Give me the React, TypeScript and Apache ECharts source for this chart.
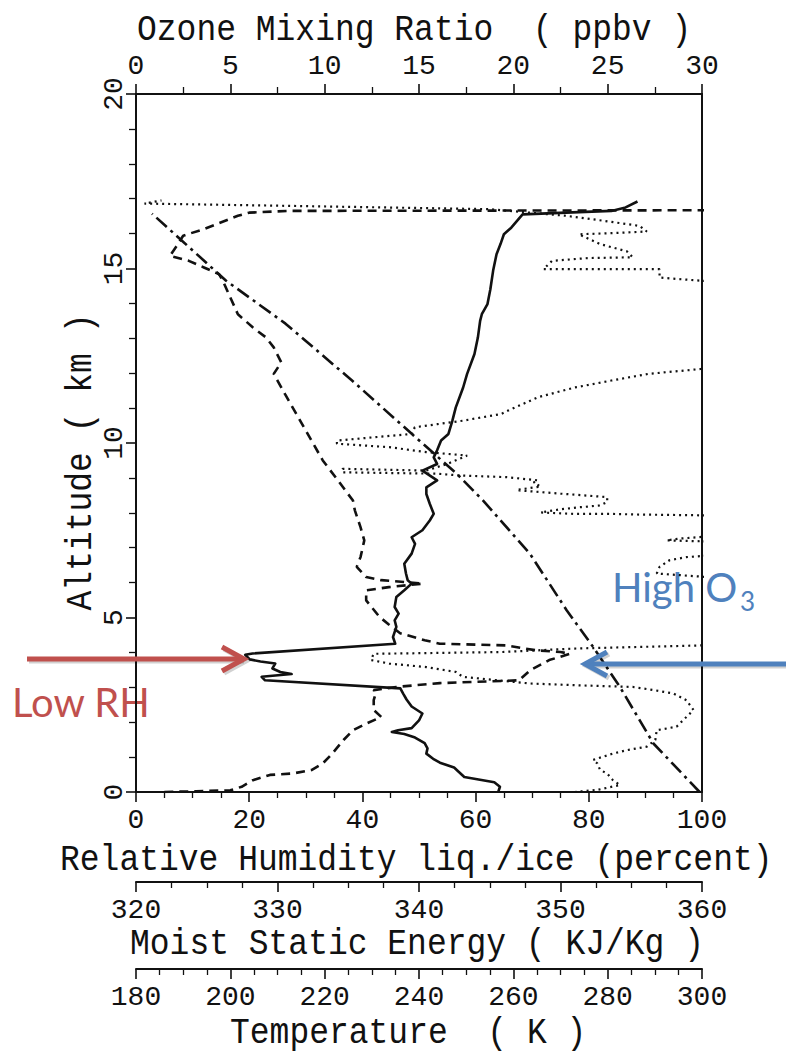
import React, { useEffect, useRef } from "react";
import * as echarts from "echarts";

// [RH (%), altitude (km)]
const rhProfile: number[][] = [
  [64.0, 0.0], [64.3, 0.15], [63.3, 0.28], [58.0, 0.43], [57.0, 0.58], [56.2, 0.7], [53.7, 0.84],
  [52.5, 0.95], [51.3, 1.1], [51.5, 1.25], [51.0, 1.4], [49.3, 1.56], [47.4, 1.66], [45.2, 1.72],
  [46.3, 1.77], [48.7, 1.83], [50.0, 2.05], [50.6, 2.25], [48.7, 2.45], [47.8, 2.65], [47.2, 2.82],
  [46.7, 2.97], [22.8, 3.2], [22.2, 3.3], [27.5, 3.38], [25.5, 3.44], [24.1, 3.54], [24.6, 3.68],
  [22.0, 3.74], [20.1, 3.8], [19.3, 3.93], [20.6, 3.97], [45.8, 4.25], [45.4, 4.44], [46.0, 4.73],
  [45.7, 4.92], [46.4, 5.11], [45.7, 5.3], [46.0, 5.59], [47.4, 5.78], [48.7, 5.97], [48.0, 6.07],
  [47.7, 6.26], [47.4, 6.54], [48.7, 6.83], [49.3, 7.11], [48.7, 7.3], [50.6, 7.5], [51.9, 7.78],
  [52.6, 7.97], [51.9, 8.26], [51.3, 8.54], [51.3, 8.73], [53.2, 8.93], [50.6, 9.21], [53.2, 9.4],
  [52.6, 9.59], [53.2, 9.79], [53.9, 10.07], [55.2, 10.26], [55.9, 10.64], [56.5, 11.02],
  [57.8, 11.59], [58.5, 11.98], [59.8, 12.55], [60.4, 13.02], [60.8, 13.5], [61.1, 13.69],
  [62.1, 13.98], [62.6, 14.4], [63.1, 14.94], [63.7, 15.41], [64.4, 15.7], [65.0, 15.98],
  [66.3, 16.17], [68.3, 16.55], [76.0, 16.6], [84.0, 16.65], [86.5, 16.75], [88.6, 16.92],
];

// [ozone (ppbv), altitude (km)]
const ozoneProfile: number[][] = [
  [1.5, 0.0], [3.2, 0.02], [5.0, 0.05], [5.6, 0.15], [6.2, 0.34], [7.1, 0.49], [8.3, 0.53],
  [9.3, 0.63], [9.9, 0.82], [10.4, 1.1], [11.0, 1.49], [11.5, 1.77], [12.2, 1.96], [13.0, 2.15],
  [12.6, 2.35], [12.6, 2.63], [12.7, 2.82], [12.6, 2.92], [13.8, 3.01], [16.1, 3.12], [20.3, 3.2],
  [20.9, 3.49], [21.9, 3.78], [23.0, 3.96], [22.5, 4.01], [21.2, 4.06], [19.6, 4.2], [16.1, 4.25],
  [15.3, 4.35], [14.0, 4.55], [13.4, 4.8], [12.9, 5.02], [12.2, 5.49], [12.2, 5.78], [13.4, 5.87],
  [15.2, 5.97], [13.0, 6.07], [12.2, 6.16], [11.7, 6.45], [11.9, 6.73], [12.1, 7.21], [11.9, 7.59],
  [11.6, 8.07], [11.5, 8.35], [10.7, 8.93], [9.9, 9.5], [9.3, 10.07], [8.9, 10.45], [8.5, 10.83],
  [7.9, 11.4], [7.5, 11.79], [7.3, 11.98], [7.7, 12.31], [7.3, 12.74], [6.9, 13.02], [6.2, 13.31],
  [5.4, 13.69], [5.0, 14.17], [4.6, 14.65], [4.4, 14.84], [3.6, 15.03], [2.8, 15.22], [1.8, 15.36],
  [2.1, 15.6], [2.5, 15.94], [3.6, 16.13], [5.4, 16.51], [6.0, 16.6], [8.0, 16.65], [31.0, 16.67],
];

// [moist static energy (kJ/kg), altitude (km)]
const mseProfile: number[][] = [
  [351.0, 0.0], [352.6, 0.06], [354.2, 0.2], [353.7, 0.34], [353.3, 0.53], [352.8, 0.63],
  [352.6, 0.82], [352.3, 0.92], [353.7, 1.1], [354.7, 1.2], [356.1, 1.3], [356.7, 1.49],
  [356.8, 1.77], [358.2, 1.87], [358.9, 2.15], [359.4, 2.35], [358.9, 2.63], [358.0, 2.82],
  [356.6, 2.92], [355.1, 3.01], [351.0, 3.06], [347.8, 3.11], [343.1, 3.3], [342.6, 3.44],
  [340.5, 3.58], [337.9, 3.68], [336.6, 3.78], [336.8, 3.96], [340.5, 3.98], [345.8, 4.01],
  [351.0, 4.11], [359.9, 4.2], [366.0, 4.5], [366.0, 6.0], [356.8, 6.26], [357.0, 6.45],
  [357.7, 6.64], [358.9, 6.73], [363.0, 6.85], [363.0, 7.15], [357.5, 7.21], [358.4, 7.26],
  [363.0, 7.4], [363.0, 7.9], [359.6, 7.93], [355.6, 7.95], [353.3, 7.97], [350.9, 7.97],
  [348.6, 8.01], [350.0, 8.1], [351.4, 8.16], [352.8, 8.21], [353.3, 8.31], [353.3, 8.45],
  [350.0, 8.55], [347.1, 8.64], [346.9, 8.66], [348.6, 8.75], [348.1, 8.87], [348.4, 8.93],
  [346.2, 9.02], [342.9, 9.07], [341.3, 9.12], [334.6, 9.16], [334.6, 9.26], [340.5, 9.21],
  [342.0, 9.4], [343.4, 9.64], [340.5, 9.74], [337.9, 9.88], [334.2, 9.98], [334.2, 10.07],
  [339.5, 10.26], [339.7, 10.45], [341.3, 10.54], [343.1, 10.64], [345.8, 10.83], [346.3, 10.93],
  [348.4, 11.31], [351.0, 11.59], [353.6, 11.79], [356.2, 11.98], [359.9, 12.12], [366.0, 12.5],
  [366.0, 14.5], [359.9, 14.65], [357.0, 14.74], [357.0, 14.98], [352.0, 14.98], [348.8, 14.98],
  [349.4, 15.22], [352.0, 15.3], [355.1, 15.32], [354.7, 15.49], [352.8, 15.7], [351.3, 15.98],
  [354.0, 16.02], [356.1, 16.06], [355.6, 16.22], [353.0, 16.37], [350.4, 16.51], [345.0, 16.7],
  [330.0, 16.8], [320.6, 16.86], [321.8, 16.95],
];

// [temperature (K), altitude (km)]
const tempProfile: number[][] = [
  [299.5, 0.0], [289.7, 1.39], [282.6, 3.01], [276.9, 4.16], [271.3, 5.21], [263.5, 6.83],
  [253.6, 8.35], [248.0, 9.12], [238.4, 10.27], [225.8, 11.79], [211.7, 13.42], [199.1, 14.65],
  [189.8, 15.79], [183.4, 16.57],
];

const altitudeTicks = [0, 20, 5];
const rhTicks = [0, 100, 20];
const mseTicks = [320, 360, 10];
const tempTicks = [180, 300, 20];
const ozoneTicks = [0, 30, 5];

const INK = "#111";
const MONO = '"Liberation Mono", "DejaVu Sans Mono", monospace';

function valueAxis(range: number[], extra: any) {
  return {
    type: "value",
    min: range[0],
    max: range[1],
    interval: range[2],
    axisLine: { show: true, onZero: false, lineStyle: { color: INK, width: 2 } },
    axisTick: { show: true, length: 10, lineStyle: { color: INK, width: 1.6 } },
    minorTick: { show: true, length: 6, lineStyle: { color: INK, width: 1.3 } },
    splitLine: { show: false },
    minorSplitLine: { show: false },
    axisLabel: { color: INK, fontFamily: MONO, fontSize: 28, margin: 14 },
    ...extra,
  };
}

function titleText(text: string, x: number, y: number, rotation = 0, align = "left") {
  return {
    type: "text",
    x,
    y,
    rotation,
    scaleY: 1.12,
    silent: true,
    style: {
      text,
      fontFamily: MONO,
      fontSize: 33,
      fill: INK,
      align,
      verticalAlign: "middle",
    },
  };
}

function arrowPart(points: number[][], color: string, z = 10) {
  return {
    type: "polyline",
    silent: true,
    z,
    shape: { points },
    style: { stroke: color, lineWidth: 5, fill: null, lineJoin: "miter", lineCap: "butt" },
  };
}

function shifted(points: number[][]) {
  return points.map((p) => [p[0] + 2, p[1] + 2]);
}

const redShaft = [[27, 659], [242, 659]];
const redHead = [[222, 647], [244, 659], [222, 671]];
const blueShaft = [[786, 664], [587, 664]];
const blueHead = [[607, 652], [585, 664], [607, 676]];

export default function App() {
  const ref = useRef<HTMLDivElement>(null);
  useEffect(() => {
    if (!ref.current) return;
    const chart = echarts.init(ref.current, null, { renderer: "svg" });
    const RED = "#c0504d";
    const BLUE = "#4f81bd";
    const SHADOW = "rgba(0,0,0,0.18)";
    const minor = (n: number, len = 6) => ({ show: true, splitNumber: n, length: len, lineStyle: { color: INK, width: 1.3 } });
    chart.setOption({
      animation: false,
      backgroundColor: "#ffffff",
      grid: { left: 136, right: 84, top: 94, bottom: 263, containLabel: false },
      xAxis: [
        valueAxis(rhTicks, { position: "bottom", minorTick: minor(4) }),
        valueAxis(mseTicks, { position: "bottom", offset: 90, minorTick: minor(4) }),
        valueAxis(tempTicks, { position: "bottom", offset: 177, minorTick: minor(4) }),
        valueAxis(ozoneTicks, { position: "top", minorTick: minor(2, 7) }),
      ],
      yAxis: [
        valueAxis(altitudeTicks, {
          position: "left",
          minorTick: minor(5, 7),
          axisLabel: { color: INK, fontFamily: MONO, fontSize: 28, margin: 8, rotate: 90 },
        }),
        {
          type: "value",
          position: "right",
          min: 0,
          max: 20,
          axisLine: { show: true, onZero: false, lineStyle: { color: INK, width: 2 } },
          axisTick: { show: false },
          axisLabel: { show: false },
          splitLine: { show: false },
        },
      ],
      series: [
        {
          name: "Relative Humidity",
          type: "line",
          xAxisIndex: 0,
          yAxisIndex: 0,
          data: rhProfile,
          symbol: "none",
          silent: true,
          lineStyle: { color: INK, width: 2.6, join: "round" },
        },
        {
          name: "Ozone",
          type: "line",
          xAxisIndex: 3,
          yAxisIndex: 0,
          data: ozoneProfile,
          symbol: "none",
          silent: true,
          lineStyle: { color: INK, width: 2.6, type: [9, 6] },
        },
        {
          name: "Moist Static Energy",
          type: "line",
          xAxisIndex: 1,
          yAxisIndex: 0,
          data: mseProfile,
          symbol: "none",
          silent: true,
          lineStyle: { color: INK, width: 2.2, type: [2, 4] },
        },
        {
          name: "Temperature",
          type: "line",
          xAxisIndex: 2,
          yAxisIndex: 0,
          data: tempProfile,
          symbol: "none",
          silent: true,
          lineStyle: { color: INK, width: 2.6, type: [14, 5, 3, 5] },
        },
      ],
      graphic: [
        titleText("Ozone Mixing Ratio  ( ppbv )", 137, 31),
        titleText("Relative Humidity liq./ice (percent)", 60, 861),
        titleText("Moist Static Energy ( KJ/Kg )", 130, 945),
        titleText("Temperature  ( K )", 230, 1034),
        titleText("Altitude ( km )", 82, 462, Math.PI / 2, "center"),
        {
          type: "text",
          x: 12,
          y: 702,
          silent: true,
          style: { text: "Low RH", fontFamily: "Lato", fontSize: 40, fill: RED, align: "left", verticalAlign: "middle" },
        },
        {
          type: "text",
          x: 612,
          y: 587,
          silent: true,
          style: { text: "High O", fontFamily: "Lato", fontSize: 40, fill: BLUE, align: "left", verticalAlign: "middle" },
        },
        {
          type: "text",
          x: 740,
          y: 601,
          silent: true,
          style: { text: "3", fontFamily: "Lato", fontSize: 26, fill: BLUE, align: "left", verticalAlign: "middle" },
        },
        arrowPart(shifted(redShaft), SHADOW, 9),
        arrowPart(shifted(redHead), SHADOW, 9),
        arrowPart(shifted(blueShaft), SHADOW, 9),
        arrowPart(shifted(blueHead), SHADOW, 9),
        arrowPart(redShaft, RED),
        arrowPart(redHead, RED),
        arrowPart(blueShaft, BLUE),
        arrowPart(blueHead, BLUE),
      ],
    });
    return () => chart.dispose();
  }, []);
  return (
    <div
      ref={ref}
      style={{ position: "fixed", left: 0, top: 0, width: 786, height: 1055, background: "#ffffff" }}
    />
  );
}
